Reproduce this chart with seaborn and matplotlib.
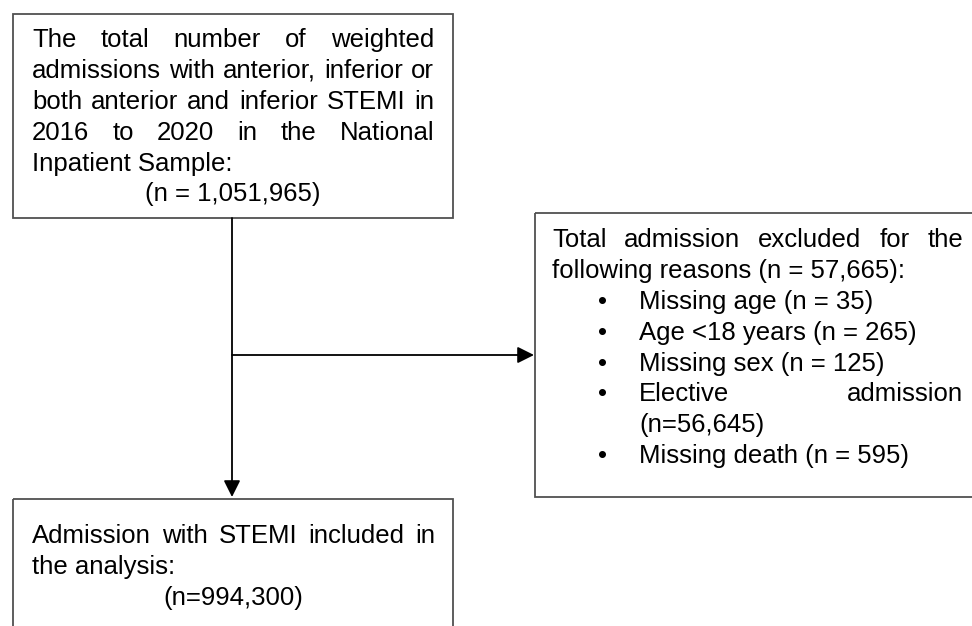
import matplotlib
matplotlib.use("Agg")
import matplotlib.pyplot as plt
import seaborn as sns
from matplotlib.patches import Rectangle

sns.set_theme(style="white")
plt.rcParams['font.family'] = ['Liberation Sans', 'DejaVu Sans']

# Box texts: (line, justified?)
top_lines = [
    ("The total number of weighted", True),
    ("admissions with anterior, inferior or", True),
    ("both anterior and inferior STEMI in", True),
    ("2016 to 2020 in the National", True),
    ("Inpatient Sample:", False),
]
top_count = "(n = 1,051,965)"

excl_header = [
    ("Total admission excluded for the", True),
    ("following reasons (n = 57,665):", False),
]
excl_items = [
    [("Missing age (n = 35)", False)],
    [("Age <18 years (n = 265)", False)],
    [("Missing sex (n = 125)", False)],
    [("Elective admission", True), ("(n=56,645)", False)],
    [("Missing death (n = 595)", False)],
]

incl_lines = [
    ("Admission with STEMI included in", True),
    ("the analysis:", False),
]
incl_count = "(n=994,300)"

FS = 18.5
LINE = 30.9
EDGE = "#505050"

fig = plt.figure(figsize=(9.72, 6.26), dpi=100)
ax = fig.add_axes([0, 0, 1, 1])
ax.set_xlim(0, 972)
ax.set_ylim(626, 0)
ax.axis("off")
renderer = fig.canvas.get_renderer()


def put_line(text, x0, x1, y, justify):
    words = text.split()
    if not justify or len(words) < 2:
        ax.text(x0, y, text, fontsize=FS, va="baseline", ha="left", color="black")
        return
    objs = [ax.text(0, y, w, fontsize=FS, va="baseline", ha="left", color="black") for w in words]
    widths = [t.get_window_extent(renderer).width for t in objs]
    gap = (x1 - x0 - sum(widths)) / (len(words) - 1)
    x = x0
    for t, w in zip(objs, widths):
        t.set_x(x)
        x += w + gap


# boxes
ax.add_patch(Rectangle((13, 14), 440, 204, fill=False, ec=EDGE, lw=1.3))
ax.add_patch(Rectangle((535, 213), 500, 284, fill=False, ec=EDGE, lw=1.3))
ax.add_patch(Rectangle((13, 499), 440, 200, fill=False, ec=EDGE, lw=1.3))

# top box text
y = 47
for txt, j in top_lines:
    put_line(txt, 32, 434, y, j)
    y += LINE
ax.text(233, y, top_count, fontsize=FS, va="baseline", ha="center", color="black")

# exclusion box text
y = 247
for txt, j in excl_header:
    put_line(txt, 552, 963, y, j)
    y += LINE
for item in excl_items:
    ax.text(602, y, "\u2022", fontsize=FS, va="baseline", ha="center", color="black")
    for txt, j in item:
        put_line(txt, 639, 963, y, j)
        y += LINE

# included box text
y = 543
for txt, j in incl_lines:
    put_line(txt, 32, 435, y, j)
    y += LINE
ax.text(233, y, incl_count, fontsize=FS, va="baseline", ha="center", color="black")

# arrows
arrow = dict(arrowstyle="-|>,head_length=1.0,head_width=0.5", color="black", lw=1.3,
             shrinkA=0, shrinkB=0, mutation_scale=10)
ax.annotate("", xy=(232, 497), xytext=(232, 218), arrowprops=arrow)
ax.annotate("", xy=(534, 355), xytext=(232, 355), arrowprops=arrow)

fig.savefig("out.png", dpi=100, facecolor="white")
